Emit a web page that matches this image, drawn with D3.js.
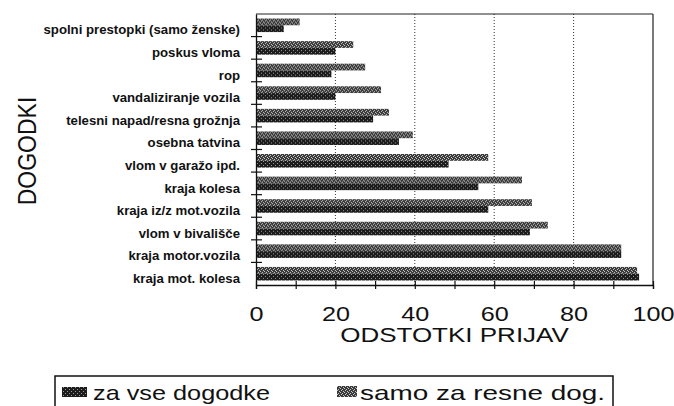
<!DOCTYPE html>
<html>
<head>
<meta charset="utf-8">
<script src="https://cdn.jsdelivr.net/npm/d3@7"></script>
<style>
  html, body { margin: 0; padding: 0; background: #fff; }
  text { font-family: "Liberation Sans", Arial, Helvetica, sans-serif; fill: #111; }
</style>
</head>
<body>
<script>
// ---- data ----
const categories = [
  "spolni prestopki (samo ženske)",
  "poskus vloma",
  "rop",
  "vandaliziranje vozila",
  "telesni napad/resna grožnja",
  "osebna tatvina",
  "vlom v garažo ipd.",
  "kraja kolesa",
  "kraja iz/z mot.vozila",
  "vlom v bivališče",
  "kraja motor.vozila",
  "kraja mot. kolesa"
];
const seriesNames = ["za vse dogodke", "samo za resne dog."];
const resneValues = [11, 24.5, 27.5, 31.5, 33.5, 39.5, 58.5, 67, 69.5, 73.5, 92, 96];
const vseValues   = [7, 20, 19, 20, 29.5, 36, 48.5, 56, 58.5, 69, 92, 96.5];
const xTickLabels = [0, 20, 40, 60, 80, 100];
const gridValues = [20, 40, 60, 80];
const xTitle = "ODSTOTKI PRIJAV";
const yTitle = "DOGODKI";

// ---- chart ----
const W = 674, H = 406;
const svg = d3.select("body").append("svg").attr("width", W).attr("height", H);

const defs = svg.append("defs");
function speckle(id, base, dot, cells) {
  const p = defs.append("pattern").attr("id", id).attr("patternUnits", "userSpaceOnUse")
    .attr("width", 4).attr("height", 4);
  p.append("rect").attr("width", 4).attr("height", 4).attr("fill", base);
  cells.forEach(c => p.append("rect").attr("x", c[0]).attr("y", c[1]).attr("width", 1).attr("height", 1).attr("fill", dot));
}
speckle("pVse", "#1c1c1c", "#9a9a9a", [[1, 1], [3, 3]]);
speckle("pResne", "#3a3a3a", "#c8c8c8", [[0, 0], [2, 1], [1, 2], [3, 3]]);
const fills = { vse: "url(#pVse)", resne: "url(#pResne)" };

const x = d3.scaleLinear().domain([0, 100]).range([256, 653]);
const y = d3.scaleBand().domain(categories).range([14, 285]).paddingInner(0.4).paddingOuter(0.2);
const ySub = d3.scaleBand().domain(["resne", "vse"]).range([0, y.bandwidth()]);

// grid lines
svg.append("g").selectAll("line").data(gridValues).join("line")
  .attr("x1", d => x(d)).attr("x2", d => x(d))
  .attr("y1", 14).attr("y2", 285)
  .attr("stroke", "#333").attr("stroke-width", 1).attr("stroke-dasharray", "1,2");

// frame top & right
svg.append("line").attr("x1", x(0)).attr("x2", x(100)).attr("y1", 14).attr("y2", 14)
  .attr("stroke", "#222").attr("stroke-width", 1.2);
svg.append("line").attr("x1", x(100)).attr("x2", x(100)).attr("y1", 14).attr("y2", 285)
  .attr("stroke", "#222").attr("stroke-width", 1.2);

// bars
const rows = categories.map((c, i) => ({ cat: c, resne: resneValues[i], vse: vseValues[i] }));
const gRows = svg.append("g").selectAll("g").data(rows).join("g")
  .attr("transform", d => `translate(0,${y(d.cat)})`);
["resne", "vse"].forEach(key => {
  gRows.append("rect")
    .attr("x", x(0))
    .attr("y", ySub(key))
    .attr("width", d => x(d[key]) - x(0))
    .attr("height", ySub.bandwidth())
    .attr("fill", fills[key]);
});

// left axis with category labels
const yAxis = svg.append("g").attr("transform", `translate(${x(0)},0)`)
  .call(d3.axisLeft(y).tickSize(0).tickSizeOuter(0).tickPadding(16));
yAxis.select(".domain").attr("stroke", "#111").attr("stroke-width", 1.3);
yAxis.selectAll("text")
  .attr("x", 0).attr("dy", "0.35em")
  .attr("transform", "translate(-16,5) scale(1.1,1)")
  .style("font-size", "12px").style("font-weight", "bold").attr("fill", "#111");

// category separator ticks (crossing)
const step = y.step();
const seps = categories.slice(1).map(c => y(c) - (step - y.bandwidth()) / 2);
svg.append("g").selectAll("line").data(seps).join("line")
  .attr("x1", x(0) - 5).attr("x2", x(0) + 6)
  .attr("y1", d => d).attr("y2", d => d)
  .attr("stroke", "#111").attr("stroke-width", 1.2);

// bottom axis ticks every 10
const xAxis = svg.append("g").attr("transform", "translate(0,285)")
  .call(d3.axisBottom(x).tickValues(d3.range(0, 101, 10)).tickSizeOuter(0).tickSize(4).tickFormat(""));
xAxis.select(".domain").attr("stroke", "#111").attr("stroke-width", 1.3);
xAxis.selectAll(".tick line").attr("y1", -4).attr("y2", 4).attr("stroke", "#111").attr("stroke-width", 1.2);

// bottom tick labels
const xLab = svg.append("g").attr("transform", "translate(0,285)")
  .call(d3.axisBottom(x).tickValues(xTickLabels).tickSize(0).tickPadding(22).tickFormat(d3.format("d")));
xLab.select(".domain").remove();
xLab.selectAll("text").style("font-size", "20px").attr("fill", "#111")
  .attr("transform", "scale(1.26,1)");

// axis titles
svg.append("text")
  .attr("transform", `translate(${(x(0) + x(100)) / 2},342) scale(1.3,1)`)
  .attr("text-anchor", "middle").style("font-size", "20px").text(xTitle);
svg.append("text")
  .attr("transform", "translate(27,151) scale(1.15,1) rotate(-90)")
  .attr("text-anchor", "middle").attr("dy", "0.35em").style("font-size", "23px").text(yTitle);

// legend
const leg = svg.append("g");
leg.append("rect").attr("x", 55).attr("y", 376).attr("width", 558).attr("height", 40)
  .attr("fill", "none").attr("stroke", "#111").attr("stroke-width", 1.5);
leg.append("rect").attr("x", 62).attr("y", 387).attr("width", 25).attr("height", 10).attr("fill", fills.vse);
leg.append("text").attr("x", 93).attr("y", 400).style("font-size", "21px")
  .attr("textLength", 177).attr("lengthAdjust", "spacingAndGlyphs").text(seriesNames[0]);
leg.append("rect").attr("x", 337).attr("y", 386).attr("width", 20).attr("height", 11).attr("fill", fills.resne);
leg.append("text").attr("x", 360).attr("y", 400).style("font-size", "21px")
  .attr("textLength", 245).attr("lengthAdjust", "spacingAndGlyphs").text(seriesNames[1]);
</script>
</body>
</html>
